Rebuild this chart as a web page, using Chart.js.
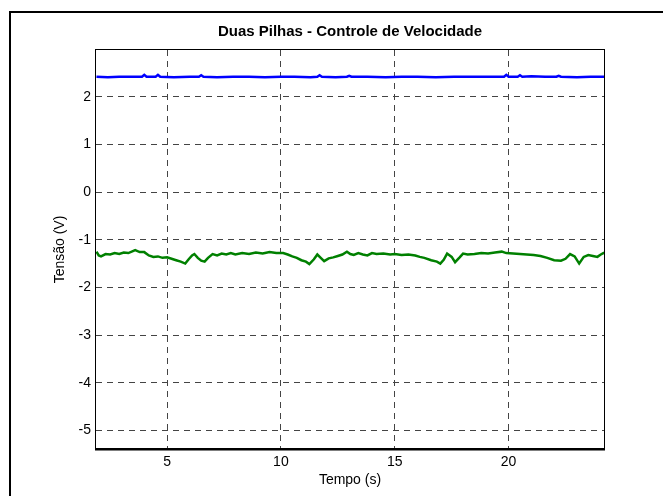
<!DOCTYPE html>
<html>
<head>
<meta charset="utf-8">
<script src="https://cdn.jsdelivr.net/npm/chart.js@4"></script>
<style>
  body { margin: 0; background: #fff; }
  #wrap { position: relative; width: 663px; height: 496px; overflow: hidden; }
  #frame { position: absolute; left: 9px; top: 11px; width: 700px; height: 600px; border: 2px solid #000; pointer-events: none; }
</style>
</head>
<body>
<div id="wrap">
  <canvas id="myChart" width="663" height="496"></canvas>
  <div id="frame"></div>
</div>
<script>
const titulo = 'Duas Pilhas - Controle de Velocidade'
const eixoX = 'Tempo (s)'
const eixoY = 'Tensão (V)'
const ticksX = [5, 10, 15, 20]
const ticksY = [-5, -4, -3, -2, -1, 0, 1, 2]

// curva azul (tensão das pilhas)
const tempoAzul = [1.9, 2.4, 2.9, 3.4, 3.9, 4.0, 4.1, 4.5, 4.6, 4.7, 5.3, 6.0, 6.4, 6.5, 6.6, 7.2, 7.9, 8.6, 9.3, 10.0, 10.6, 11.3, 11.6, 11.7, 11.8, 12.4, 12.9, 13.0, 13.1, 13.8, 14.6, 15.3, 16.0, 16.8, 17.6, 18.4, 19.2, 19.8, 19.9, 20.0, 20.4, 20.5, 20.6, 21.0, 21.6, 22.1, 22.2, 22.3, 23.0, 23.6, 24.2]
const azul = [2.42, 2.41, 2.42, 2.42, 2.42, 2.46, 2.42, 2.42, 2.46, 2.42, 2.41, 2.42, 2.42, 2.45, 2.42, 2.41, 2.42, 2.42, 2.41, 2.42, 2.42, 2.41, 2.42, 2.45, 2.42, 2.41, 2.42, 2.44, 2.42, 2.42, 2.41, 2.42, 2.42, 2.41, 2.42, 2.42, 2.42, 2.42, 2.46, 2.42, 2.42, 2.45, 2.42, 2.43, 2.42, 2.42, 2.44, 2.42, 2.41, 2.42, 2.42]

// curva verde (controle)
const tempoVerde = [1.9, 2.0, 2.1, 2.3, 2.5, 2.7, 2.9, 3.1, 3.3, 3.5, 3.6, 3.8, 4.0, 4.2, 4.4, 4.6, 4.8, 5.0, 5.2, 5.4, 5.6, 5.8, 5.95, 6.1, 6.2, 6.35, 6.5, 6.65, 6.8, 7.0, 7.2, 7.4, 7.6, 7.8, 8.0, 8.3, 8.6, 8.9, 9.2, 9.5, 9.8, 10.1, 10.3, 10.5, 10.7, 10.9, 11.1, 11.25, 11.45, 11.6, 11.75, 11.9, 12.1, 12.3, 12.5, 12.7, 12.9, 13.05, 13.2, 13.4, 13.6, 13.8, 14.0, 14.2, 14.5, 14.8, 15.0, 15.3, 15.6, 15.9, 16.1, 16.3, 16.6, 16.85, 17.0, 17.15, 17.3, 17.5, 17.65, 17.85, 18.0, 18.2, 18.5, 18.8, 19.1, 19.4, 19.7, 19.9, 20.2, 20.5, 20.8, 21.1, 21.4, 21.7, 22.0, 22.3, 22.5, 22.7, 22.9, 23.1, 23.3, 23.5, 23.7, 23.9, 24.05, 24.2]
const verde = [-1.25, -1.33, -1.35, -1.30, -1.31, -1.28, -1.30, -1.27, -1.28, -1.24, -1.22, -1.26, -1.26, -1.33, -1.36, -1.35, -1.38, -1.37, -1.40, -1.43, -1.46, -1.50, -1.41, -1.33, -1.30, -1.38, -1.44, -1.46, -1.38, -1.30, -1.33, -1.29, -1.31, -1.28, -1.31, -1.28, -1.30, -1.27, -1.29, -1.26, -1.28, -1.28, -1.31, -1.35, -1.38, -1.43, -1.46, -1.51, -1.41, -1.31, -1.38, -1.45, -1.39, -1.37, -1.34, -1.31, -1.25, -1.30, -1.32, -1.28, -1.31, -1.33, -1.28, -1.30, -1.29, -1.31, -1.30, -1.32, -1.31, -1.33, -1.36, -1.38, -1.43, -1.46, -1.50, -1.42, -1.29, -1.36, -1.47, -1.37, -1.29, -1.31, -1.30, -1.28, -1.29, -1.27, -1.25, -1.28, -1.29, -1.30, -1.31, -1.32, -1.34, -1.38, -1.43, -1.44, -1.40, -1.30, -1.35, -1.50, -1.36, -1.32, -1.34, -1.36, -1.31, -1.27]

const fonte = 'Liberation Sans, Arial, sans-serif'

const caixa = {
    id: 'caixa',
    afterDraw(chart) {
        const {ctx, chartArea} = chart
        ctx.save()
        ctx.setLineDash([])
        ctx.strokeStyle = '#000'
        ctx.lineWidth = 1
        ctx.strokeRect(chartArea.left - 0.5, chartArea.top - 0.5, chartArea.right - chartArea.left + 1, chartArea.bottom - chartArea.top)
        ctx.lineWidth = 2
        ctx.beginPath()
        ctx.moveTo(chartArea.left - 1, chartArea.bottom + 0.5)
        ctx.lineTo(chartArea.right + 1, chartArea.bottom + 0.5)
        ctx.stroke()
        ctx.restore()
    }
}

const toPoints = (xs, ys) => xs.map((x, i) => ({x: x, y: ys[i]}))

const conf = {
    type: 'scatter',
    data: {
        datasets: [
            {
                data: toPoints(tempoAzul, azul),
                showLine: true,
                borderColor: '#0000ff',
                borderWidth: 2.5,
                pointRadius: 0,
                tension: 0
            },
            {
                data: toPoints(tempoVerde, verde),
                showLine: true,
                borderColor: '#008000',
                borderWidth: 2.5,
                pointRadius: 0,
                tension: 0
            }
        ]
    },
    options: {
        responsive: false,
        animation: false,
        layout: { padding: { left: 0, right: 59, top: 0, bottom: 0 } },
        plugins: {
            legend: { display: false },
            tooltip: { enabled: false },
            title: {
                display: true,
                text: titulo,
                fullSize: false,
                color: '#000',
                font: { family: fonte, size: 15, weight: 'bold' },
                padding: { top: 23, bottom: 9 }
            }
        },
        scales: {
            x: {
                type: 'linear',
                min: 1.88,
                max: 24.19,
                afterBuildTicks: (axis) => { axis.ticks = ticksX.map(v => ({value: v})) },
                afterFit: (axis) => { axis.height = 47 },
                grid: { color: '#444', lineWidth: 1, drawTicks: false },
                border: { display: false, dash: [6, 5] },
                ticks: { color: '#000', padding: 5, font: { family: fonte, size: 14 } },
                title: { display: true, text: eixoX, color: '#000', font: { family: fonte, size: 14 }, padding: { top: 0, bottom: 7 } }
            },
            y: {
                min: -5.39,
                max: 2.98,
                afterBuildTicks: (axis) => { axis.ticks = ticksY.map(v => ({value: v})) },
                afterFit: (axis) => { axis.width = 96 },
                grid: { color: '#444', lineWidth: 1, drawTicks: false },
                border: { display: false, dash: [6, 5] },
                ticks: { color: '#000', padding: 5, font: { family: fonte, size: 14 } },
                title: { display: true, text: eixoY, color: '#000', font: { family: fonte, size: 14 }, padding: { top: 52, bottom: 0 } }
            }
        }
    },
    plugins: [caixa]
}

new Chart(document.getElementById('myChart'), conf)
</script>
</body>
</html>
